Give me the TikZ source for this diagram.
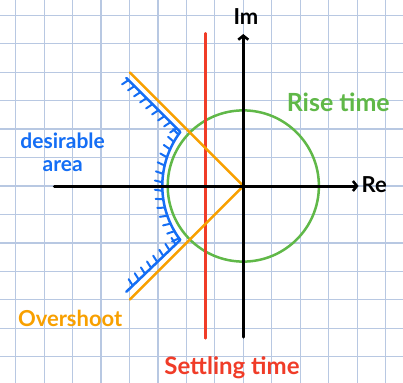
\documentclass[tikz,border=0pt]{standalone}
\usepackage{fontspec}
\setmainfont{Lato}
\usetikzlibrary{arrows.meta,decorations.markings}
\definecolor{gridc}{RGB}{184,200,226}
\definecolor{myblue}{RGB}{20,110,245}
\definecolor{myorange}{RGB}{248,160,0}
\definecolor{mygreen}{RGB}{96,184,72}
\definecolor{myred}{RGB}{240,60,40}
\begin{document}
\begin{tikzpicture}[x=37.8pt,y=37.8pt,line cap=round,line join=round,
  lbl/.style={inner sep=0pt,anchor=base},
  fs/.style={font=\fontsize{#1}{#1}\selectfont\bfseries},
  axis/.style={black,line width=3pt,-{Straight Barb[length=4pt,width=10pt,line width=2.6pt]}},
  hatchline/.style={myblue,line width=2.5pt,
    postaction={decorate,decoration={markings,
      mark=between positions 3pt and -3pt step 8.5pt with {\draw[myblue,line width=2pt] (0pt,0pt) -- (-1.5pt,-7.5pt);}}}}]
\useasboundingbox (-6.4365,-5.2116) rectangle (4.2249,4.9206);
\begin{scope}
\clip (-6.4365,-5.2116) rectangle (4.2249,4.9206);
\fill[white] (-6.4365,-5.2116) rectangle (4.2249,4.9206);
\draw[gridc,line width=1.2pt] (-7,-6) grid (5,5);
\end{scope}
% coordinates
\coordinate (O) at (0,0);
\coordinate (xs) at (-5,0);
\coordinate (xe) at (3.05,0);
\coordinate (ys) at (0,-4);
\coordinate (ye) at (0,4.02);
\coordinate (rs) at (-1,-4.03);
\coordinate (re) at (-1,4.04);
\coordinate (ou) at (-3,3);
\coordinate (ol) at (-3,-3);
\coordinate (bs) at (-3.095,2.857);
\coordinate (bc) at (-1.667,1.429);
\coordinate (be) at (-3.095,-2.8);
% hatched boundary
\draw[hatchline] (bs) -- (bc) arc[start angle=143.13,end angle=216.87,radius=2.381] -- (be);
% circle
\draw[mygreen,line width=2.5pt] (O) circle[radius=2];
% red line
\draw[myred,line width=2.5pt] (rs) -- (re);
% orange lines
\draw[myorange,line width=2.5pt] (ou) -- (O) -- (ol);
% axes
\draw[axis] (xs) -- (xe);
\draw[axis] (ys) -- (ye);
% labels
\node[lbl,fs=22] (im) at (0.07,4.26) {Im};
\node[lbl,fs=22] (re) at (3.466,-0.185) {Re};
\node[lbl,fs=25,mygreen] (rise) at (2.513,1.958) {Rise time};
\node[inner sep=0pt,anchor=north,align=center,font=\fontsize{21}{23}\selectfont\bfseries,text=myblue] (des) at (-4.78,1.42) {desirable\\area};
\node[lbl,fs=22,myorange] (over) at (-4.58,-3.72) {Overshoot};
\node[lbl,fs=24,myred] (settle) at (-0.30,-5.0) {Settling time};
\end{tikzpicture}
\end{document}
